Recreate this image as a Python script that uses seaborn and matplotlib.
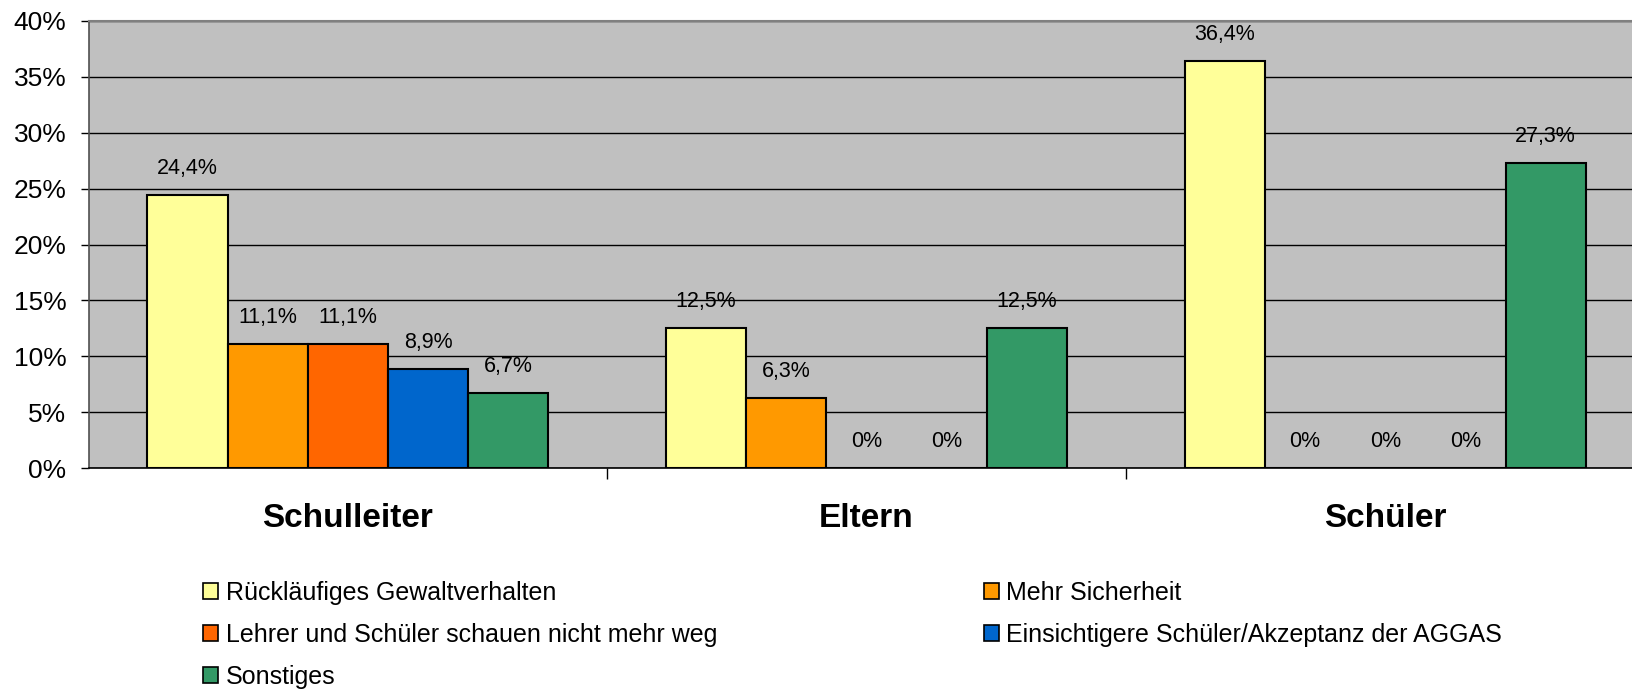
import matplotlib
matplotlib.use("Agg")
import matplotlib.pyplot as plt
import matplotlib.patches as mpatches
from matplotlib.ticker import FixedLocator, PercentFormatter
import seaborn as sns
import pandas as pd

groups = ["Schulleiter", "Eltern", "Schüler"]
series = ["Rückläufiges Gewaltverhalten", "Mehr Sicherheit",
          "Lehrer und Schüler schauen nicht mehr weg",
          "Einsichtigere Schüler/Akzeptanz der AGGAS", "Sonstiges"]
rueck = [24.4, 12.5, 36.4]
mehr = [11.1, 6.3, 0.0]
lehrer = [11.1, 0.0, 0.0]
einsicht = [8.9, 0.0, 0.0]
sonst = [6.7, 12.5, 27.3]
colors = ["#FFFF99", "#FF9900", "#FF6600", "#0066CC", "#339966"]
yticks = [0, 5, 10, 15, 20, 25, 30, 35, 40]

rows = []
for s, vals in zip(series, [rueck, mehr, lehrer, einsicht, sonst]):
    for g, v in zip(groups, vals):
        rows.append({"Gruppe": g, "Serie": s, "Wert": v})
df = pd.DataFrame(rows)

sns.set_theme(style="white")
plt.rcParams["font.family"] = ["Liberation Sans", "DejaVu Sans"]
plt.rcParams["text.color"] = "black"
plt.rcParams["xtick.color"] = "black"
plt.rcParams["ytick.color"] = "black"

fig = plt.figure(figsize=(16.32, 6.91), dpi=100)
ax = fig.add_axes([88.5 / 1632, (691 - 468) / 691, (1644.6 - 88.5) / 1632, (468 - 21) / 691])
ax.set_facecolor("#C0C0C0")
ax.set_axisbelow(True)
ax.yaxis.grid(True, color="black", linewidth=1.0)

sns.barplot(data=df, x="Gruppe", y="Wert", hue="Serie", order=groups,
            hue_order=series, palette=colors, width=0.773, ax=ax, saturation=1,
            edgecolor="black", linewidth=1.5, legend=False, errorbar=None)

for cont in ax.containers:
    for bar in cont:
        h = bar.get_height()
        txt = "0%" if h == 0 else (f"{h:.1f}".replace(".", ",") + "%")
        ax.annotate(txt, (bar.get_x() + bar.get_width() / 2, h),
                    xytext=(0, 16), textcoords="offset pixels",
                    ha="center", va="bottom", fontsize=15.5, color="black")

ax.set_xlim(-0.5, 2.5)
ax.set_ylim(0, 40)
ax.set_yticks(yticks)
ax.yaxis.set_major_formatter(PercentFormatter(decimals=0))
ax.set_xlabel("")
ax.set_ylabel("")
ax.tick_params(axis="y", which="major", direction="out", length=6, width=1,
               color="black", labelcolor="black", labelsize=19, pad=10, left=True)
ax.tick_params(axis="x", which="major", length=0, labelsize=24, pad=25.5,
               labelcolor="black")
for lab in ax.get_xticklabels():
    lab.set_fontweight("bold")
ax.xaxis.set_minor_locator(FixedLocator([0.5, 1.5]))
ax.tick_params(axis="x", which="minor", direction="out", length=8, width=1,
               color="black", bottom=True)

for side in ["top", "right"]:
    ax.spines[side].set_color("#808080")
    ax.spines[side].set_linewidth(1.5)
ax.spines["left"].set_color("#505050")
ax.spines["left"].set_linewidth(1.2)
ax.spines["bottom"].set_color("black")
ax.spines["bottom"].set_linewidth(1.2)

handles = [mpatches.Patch(facecolor=c, edgecolor="black", linewidth=1.2, label=s)
           for c, s in zip(colors, series)]
common = dict(frameon=False, fontsize=18, handlelength=0.6, handleheight=0.6,
              handletextpad=0.3, labelspacing=0.72, borderpad=0, borderaxespad=0,
              labelcolor="black")
leg1 = fig.legend(handles=[handles[0], handles[2], handles[4]], loc="upper left",
                  bbox_to_anchor=(203 / 1632, 1 - 581 / 691), **common)
leg2 = fig.legend(handles=[handles[1], handles[3]], loc="upper left",
                  bbox_to_anchor=(984 / 1632, 1 - 581 / 691), **common)

fig.savefig("out.png", dpi=100)
